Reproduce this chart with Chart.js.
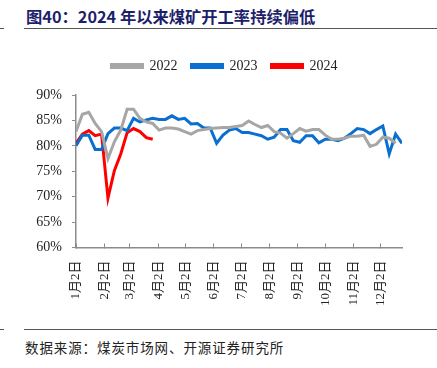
<!DOCTYPE html>
<html>
<head>
<meta charset="utf-8">
<script src="https://cdn.jsdelivr.net/npm/chart.js@4"></script>
<style>
  html, body { margin: 0; padding: 0; background: #fff; }
  body { width: 437px; height: 368px; position: relative; overflow: hidden; }
  .title {
    position: absolute; left: 26px; top: 4px;
    font: bold 16.3px "Noto Sans CJK SC", "Liberation Serif", serif;
    color: #1d1f6b; white-space: nowrap;
  }
  .rule { position: absolute; height: 1px; background: #555; }
  .source {
    position: absolute; left: 25px; top: 337px;
    font: 13.5px "Noto Sans CJK SC", serif; color: #222; letter-spacing: 0.9px;
  }
  #wrap { position: absolute; left: 0; top: 45px; width: 437px; height: 278px; }
</style>
</head>
<body>
<div class="title">图40：2024 年以来煤矿开工率持续偏低</div>
<div class="rule" style="left:0;width:4px;top:28px"></div>
<div class="rule" style="left:24px;right:0;top:28px"></div>
<div id="wrap"><canvas id="coalChart"></canvas></div>
<div class="rule" style="left:0;width:4px;top:329px"></div>
<div class="rule" style="left:24px;right:0;top:329px"></div>
<div class="source">数据来源：煤炭市场网、开源证券研究所</div>

<script>
// weekly readings, one per week starting Jan 2
const rate2022 = [82.8, 86.2, 86.6, 84.4, 82.8, 77.5, 80.8, 83.1, 87.2, 87.2, 85.4, 84.7, 84.4,
                  83.1, 83.5, 83.5, 83.3, 82.8, 82.3, 83.0, 83.2, 83.4, 83.5, 83.6, 83.6, 83.8,
                  84.0, 84.9, 84.2, 83.6, 84.0, 82.8, 82.5, 81.5, 82.4, 83.4, 82.9, 83.2, 83.2,
                  82.1, 81.3, 81.3, 81.5, 81.9, 81.9, 82.1, 79.9, 80.3, 81.7, 81.5, 80.5];
const rate2023 = [80.0, 82.1, 82.1, 79.3, 79.3, 82.4, 83.5, 83.5, 83.0, 85.4, 84.7, 85.1, 85.4,
                  85.2, 85.2, 85.9, 85.2, 85.4, 84.3, 84.4, 83.5, 83.5, 80.5, 82.1, 83.1, 83.4,
                  82.6, 82.6, 82.3, 82.0, 81.3, 81.7, 83.2, 83.2, 81.0, 80.7, 82.0, 82.0, 80.6,
                  81.3, 81.3, 81.0, 81.5, 82.4, 83.4, 83.2, 82.4, 83.2, 83.9, 78.4, 82.3, 80.5];
const rate2024 = [80.5, 82.3, 83.0, 82.0, 82.3, 69.7, 75.1, 78.4, 82.6, 83.4, 82.8, 81.6, 81.3];

// day offsets from Jan 2 for the month ticks
const tickDays = [0, 31, 59, 90, 120, 151, 181, 212, 243, 273, 304, 334];
const tickLabels = ['1月2日', '2月2日', '3月2日', '4月2日', '5月2日', '6月2日',
                    '7月2日', '8月2日', '9月2日', '10月2日', '11月2日', '12月2日'];

const toPoints = arr => arr.map((v, i) => ({ x: i * 7, y: v }));

const serif = '"Liberation Serif", "Noto Sans CJK SC", serif';
const axisColor = '#8c8c8c';

// extra room under the legend, and nudge it right like the original
const legendTweak = {
    id: 'legendTweak',
    beforeInit(chart) {
        const fit = chart.legend.fit;
        chart.legend.fit = function () {
            fit.bind(chart.legend)();
            this.height += 12;
        };
    },
    afterLayout(chart) {
        chart.legend.left += 6;
        chart.legend.right += 6;
    }
};

const ctx = document.getElementById('coalChart').getContext('2d');

const coalChart = new Chart(ctx, {
    type: 'line',
    data: {
        datasets: [
            { label: '2022', data: toPoints(rate2022), borderColor: '#a6a6a6', backgroundColor: '#a6a6a6' },
            { label: '2023', data: toPoints(rate2023), borderColor: '#0a6fd0', backgroundColor: '#0a6fd0' },
            { label: '2024', data: toPoints(rate2024), borderColor: '#ff0000', backgroundColor: '#ff0000' }
        ]
    },
    options: {
        responsive: true,
        maintainAspectRatio: false,
        animation: false,
        elements: {
            line: { borderWidth: 3, tension: 0 },
            point: { radius: 0 }
        },
        layout: { padding: { left: 35, right: 35, top: 0, bottom: 0 } },
        plugins: {
            tooltip: { enabled: false },
            legend: {
                position: 'top',
                labels: {
                    boxWidth: 31,
                    boxHeight: 3,
                    padding: 14,
                    color: '#222',
                    font: { family: serif, size: 14 }
                }
            }
        },
        scales: {
            x: {
                type: 'linear',
                min: 0,
                max: 357,
                afterBuildTicks: scale => { scale.ticks = tickDays.map(d => ({ value: d })); },
                ticks: {
                    autoSkip: false,
                    minRotation: 90,
                    maxRotation: 90,
                    padding: 17,
                    color: '#222',
                    font: { family: serif, size: 13 },
                    callback: (v) => tickLabels[tickDays.indexOf(v)]
                },
                grid: { drawOnChartArea: false, color: axisColor, tickLength: -4 },
                border: { color: axisColor, width: 1.5 }
            },
            y: {
                min: 60,
                max: 90,
                afterFit: scale => { scale.width = 41; },
                ticks: {
                    stepSize: 5,
                    padding: 10,
                    color: '#222',
                    font: { family: serif, size: 14 },
                    callback: v => v + '%'
                },
                grid: { drawOnChartArea: false, color: axisColor, tickLength: 4 },
                border: { color: axisColor, width: 1.5 }
            }
        }
    },
    plugins: [legendTweak]
});
</script>
</body>
</html>
